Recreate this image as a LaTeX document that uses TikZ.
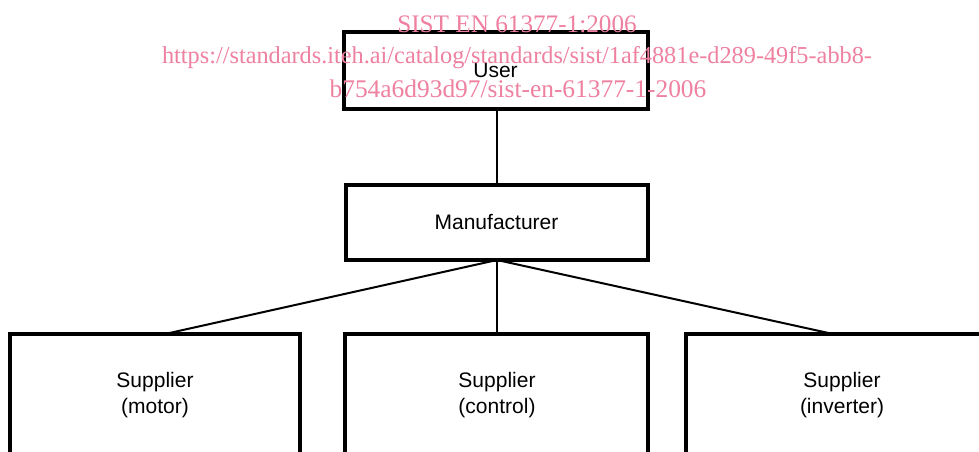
\documentclass[tikz,border=0pt]{standalone}
\usepackage{fontspec}
\setmainfont{Liberation Sans}
\newfontfamily\wmfont{Liberation Serif}
\definecolor{wmpink}{RGB}{238,128,160}
\begin{document}
\begin{tikzpicture}[x=1pt,y=-1pt,
  box/.style={draw=black,line width=4pt,fill=white,inner sep=0pt,font=\fontsize{21}{25}\selectfont,align=center},
  lbl/.style={font=\fontsize{21}{25.5}\selectfont,align=center},
  conn/.style={draw=black,line width=2pt},
  wm/.style={text=wmpink,font=\wmfont\fontsize{25.2}{30}\selectfont,inner sep=0pt}]
\useasboundingbox (0,0) rectangle (979,452);
\begin{scope}
\clip (0,0) rectangle (979,452);
\node[box,minimum width=304pt,minimum height=76pt] (user) at (495.5,70.5) {User};
\node[box,minimum width=302pt,minimum height=75pt] (manu) at (496.5,222.5) {Manufacturer};
\node[box,minimum width=290pt,minimum height=160pt] (s1) at (155,414) {};
\node[box,minimum width=303pt,minimum height=160pt] (s2) at (496.5,414) {};
\node[box,minimum width=303pt,minimum height=160pt] (s3) at (837.5,414) {};
\node[lbl] (t1) at (155,395) {Supplier\\(motor)};
\node[lbl] (t2) at (497,395) {Supplier\\(control)};
\node[lbl] (t3) at (842,395) {Supplier\\(inverter)};
\coordinate (mb) at (497,260);
\coordinate (s1t) at (165,334);
\coordinate (s3t) at (833,334);
\draw[conn] (user.south -| mb) -- (manu.north -| mb);
\draw[conn] (mb) -- (s1t);
\draw[conn] (mb) -- (manu.south -| mb) -- (s2.north -| mb);
\draw[conn] (mb) -- (s3t);
\end{scope}
\node[wm] (w1) at (517,24) {SIST EN 61377-1:2006};
\node[wm,font=\wmfont\fontsize{24.3}{30}\selectfont] (w2) at (517,58) {https://standards.iteh.ai/catalog/standards/sist/1af4881e-d289-49f5-abb8-};
\node[wm,font=\wmfont\fontsize{25.4}{30}\selectfont] (w3) at (518,89) {b754a6d93d97/sist-en-61377-1-2006};
\end{tikzpicture}
\end{document}
